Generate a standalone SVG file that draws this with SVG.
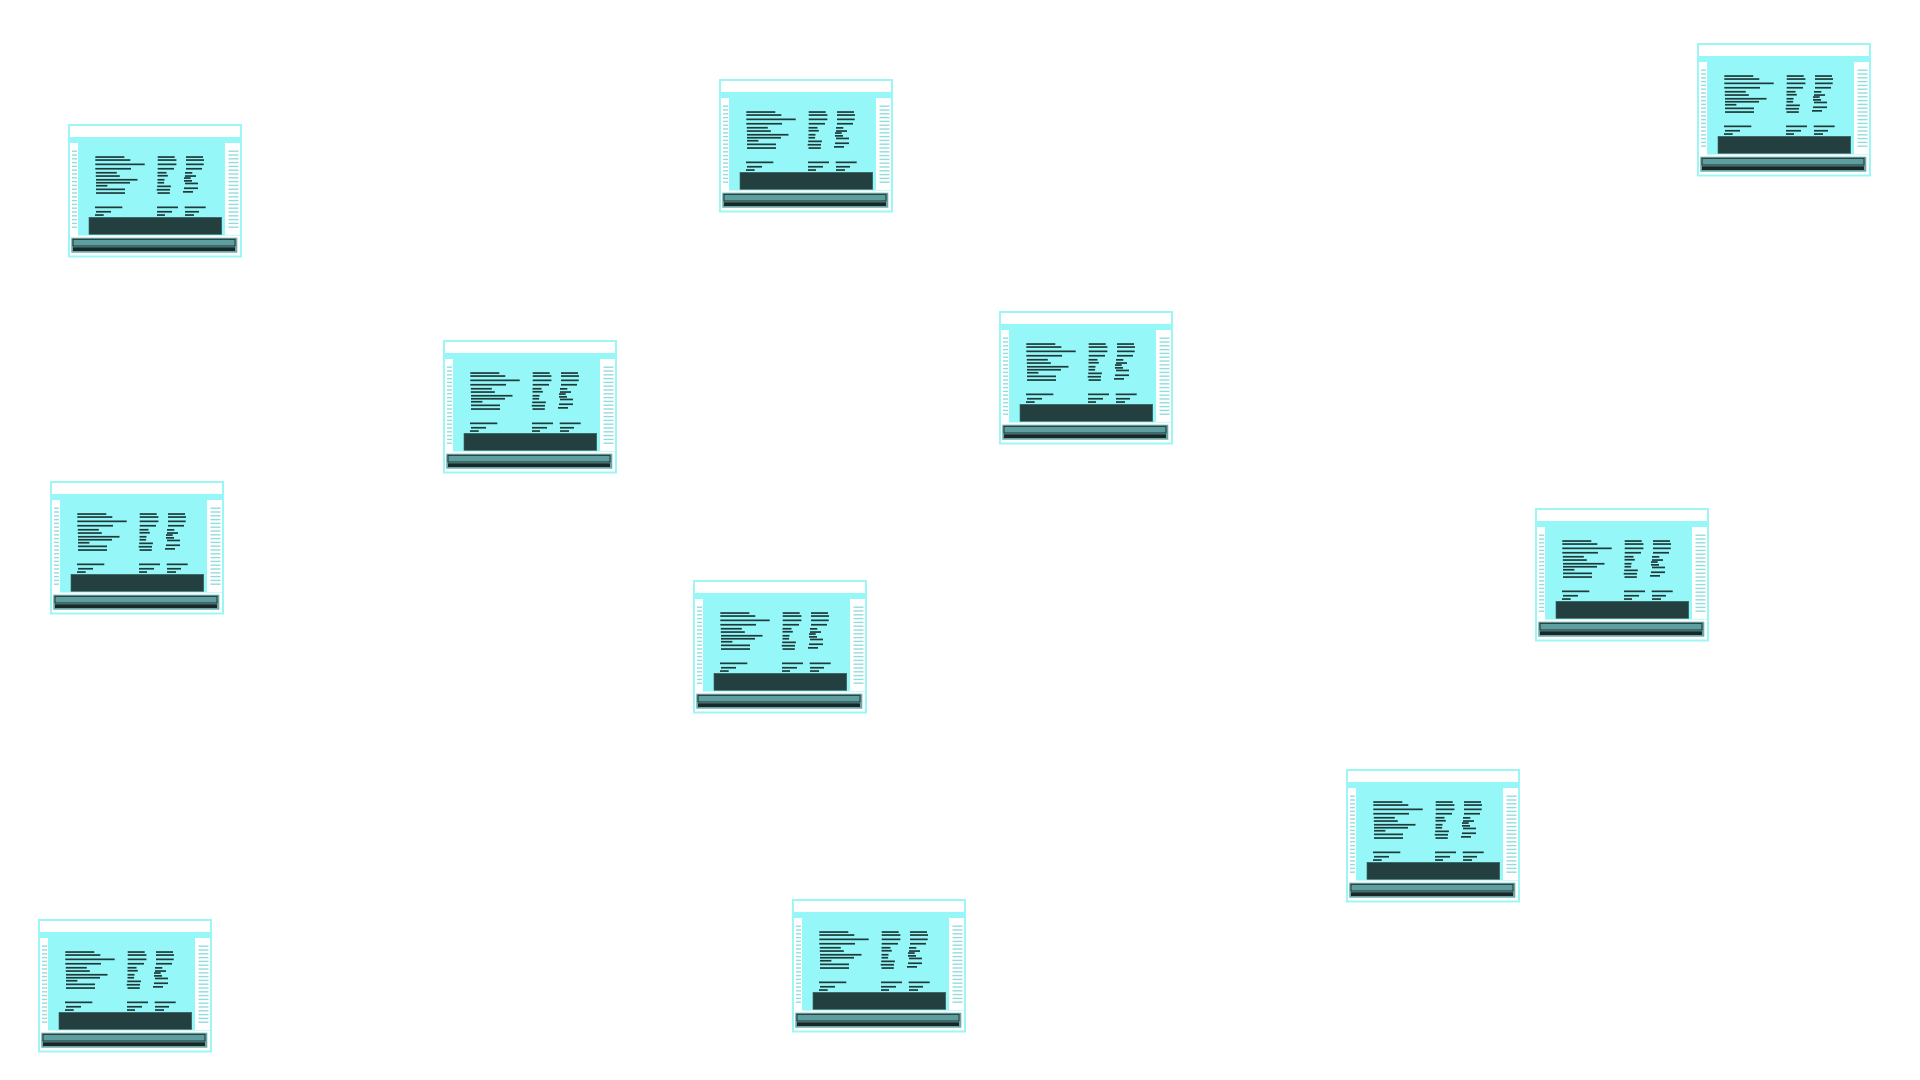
<svg xmlns="http://www.w3.org/2000/svg" xmlns:xlink="http://www.w3.org/1999/xlink" width="1920" height="1080" viewBox="0 0 1920 1080">
<style>
.frame{fill:#ffffff;stroke:#9cf6f6;stroke-width:2}
.screen{fill:#95f7f7}
.side{fill:#ffffff}
.tick{fill:#94dcdc}
.ln{fill:#1f3a3a}
.dark{fill:#243f3f;stroke:#3a6262;stroke-width:0.6}
.tray{fill:#6aa6a6}
.slot{fill:#5f9e9e;stroke:#172828;stroke-width:0.9}
.base{fill:#172828}
</style>
<defs>
<g id="tick-col">
<rect class="tick" x="0" y="0" width="5" height="1.4"/>
<rect class="tick" x="0" y="3.8" width="5" height="1.4"/>
<rect class="tick" x="0" y="7.6" width="5" height="1.4"/>
<rect class="tick" x="0" y="11.4" width="5" height="1.4"/>
<rect class="tick" x="0" y="15.2" width="5" height="1.4"/>
<rect class="tick" x="0" y="19" width="5" height="1.4"/>
<rect class="tick" x="0" y="22.8" width="5" height="1.4"/>
<rect class="tick" x="0" y="26.6" width="5" height="1.4"/>
<rect class="tick" x="0" y="30.4" width="5" height="1.4"/>
<rect class="tick" x="0" y="34.2" width="5" height="1.4"/>
<rect class="tick" x="0" y="38" width="5" height="1.4"/>
<rect class="tick" x="0" y="41.8" width="5" height="1.4"/>
<rect class="tick" x="0" y="45.6" width="5" height="1.4"/>
<rect class="tick" x="0" y="49.4" width="5" height="1.4"/>
<rect class="tick" x="0" y="53.2" width="5" height="1.4"/>
<rect class="tick" x="0" y="57" width="5" height="1.4"/>
<rect class="tick" x="0" y="60.8" width="5" height="1.4"/>
<rect class="tick" x="0" y="64.6" width="5" height="1.4"/>
<rect class="tick" x="0" y="68.4" width="5" height="1.4"/>
<rect class="tick" x="0" y="72.2" width="5" height="1.4"/>
<rect class="tick" x="0" y="76" width="5" height="1.4"/>
</g>
<g id="screen-icon">
<rect class="frame" x="1" y="1" width="172" height="131.5"/>
<rect class="screen" x="2" y="13" width="170" height="98.5"/>
<rect class="side" x="2" y="19" width="8" height="93"/>
<rect class="side" x="157" y="19" width="15" height="92"/>
<use xlink:href="#tick-col" href="#tick-col" transform="translate(4,26.5)"/>
<use xlink:href="#tick-col" href="#tick-col" transform="translate(160.5,26.5) scale(2,1)"/>
<!-- left column lines -->
<rect class="ln" x="27.3" y="32.2" width="29" height="1.7"/>
<rect class="ln" x="27.3" y="35.2" width="35" height="1.7"/>
<rect class="ln" x="27.3" y="39.5" width="49.4" height="1.7"/>
<rect class="ln" x="27.3" y="43.9" width="35.7" height="1.7"/>
<rect class="ln" x="27.8" y="47.9" width="21" height="1.7"/>
<rect class="ln" x="27.8" y="51.2" width="24" height="1.7"/>
<rect class="ln" x="28" y="54.9" width="41.5" height="1.7"/>
<rect class="ln" x="28" y="57.9" width="34" height="1.7"/>
<rect class="ln" x="28" y="60.9" width="11.4" height="1.7"/>
<rect class="ln" x="28" y="64.5" width="29" height="1.7"/>
<rect class="ln" x="28" y="68.2" width="29" height="1.7"/>
<!-- middle column lines -->
<rect class="ln" x="89.7" y="32.2" width="17" height="1.7"/>
<rect class="ln" x="89.7" y="35.2" width="18.7" height="1.7"/>
<rect class="ln" x="89.7" y="39.5" width="18.7" height="1.7"/>
<rect class="ln" x="89.7" y="43.9" width="16.3" height="1.7"/>
<rect class="ln" x="89.5" y="47.9" width="9" height="1.7"/>
<rect class="ln" x="89.5" y="50.9" width="10.3" height="1.7"/>
<rect class="ln" x="89.5" y="54.9" width="7" height="1.7"/>
<rect class="ln" x="89.5" y="57.9" width="6.6" height="1.7"/>
<rect class="ln" x="89.2" y="61.5" width="13.7" height="1.7"/>
<rect class="ln" x="88.7" y="64.9" width="13.3" height="1.7"/>
<rect class="ln" x="89.5" y="68.2" width="12.3" height="1.7"/>
<!-- right column lines -->
<rect class="ln" x="118" y="32.2" width="17" height="1.7"/>
<rect class="ln" x="118" y="35.2" width="18" height="1.7"/>
<rect class="ln" x="118" y="39.5" width="17.7" height="1.7"/>
<rect class="ln" x="118" y="43.9" width="16" height="1.7"/>
<rect class="ln" x="117" y="48" width="7.3" height="1.7"/>
<rect class="ln" x="117" y="51.2" width="11" height="1.7"/>
<rect class="ln" x="116" y="53.2" width="6.7" height="1.7"/>
<rect class="ln" x="116" y="56" width="8" height="1.7"/>
<rect class="ln" x="117" y="58.6" width="13" height="1.7"/>
<rect class="ln" x="116" y="63.4" width="14" height="1.7"/>
<rect class="ln" x="115" y="67" width="10" height="1.7"/>
<!-- lower lines -->
<rect class="ln" x="27" y="82.5" width="27.3" height="1.7"/>
<rect class="ln" x="89" y="82.5" width="21" height="1.7"/>
<rect class="ln" x="116.7" y="82.5" width="21" height="1.7"/>
<rect class="ln" x="28" y="86.9" width="15" height="1.7"/>
<rect class="ln" x="89" y="86.9" width="15" height="1.7"/>
<rect class="ln" x="117" y="86.9" width="14" height="1.7"/>
<rect class="ln" x="27" y="90.2" width="8.7" height="1.7"/>
<rect class="ln" x="89" y="90.2" width="8" height="1.7"/>
<rect class="ln" x="117" y="90.2" width="9" height="1.7"/>
<rect class="dark" x="21" y="93.3" width="132.7" height="17"/>
<rect class="tray" x="3.3" y="113.7" width="166" height="15"/>
<rect class="slot" x="5" y="115.3" width="162" height="6.7"/>
<rect class="base" x="5" y="123.3" width="162" height="3.7"/>
</g>
</defs>
<rect x="0" y="0" width="1920" height="1080" fill="#ffffff"/>
<g id="connectors"/>
<g id="node-1" transform="translate(68,124)"><use xlink:href="#screen-icon" href="#screen-icon"/></g>
<g id="node-2" transform="translate(719,79)"><use xlink:href="#screen-icon" href="#screen-icon"/></g>
<g id="node-3" transform="translate(1697,43)"><use xlink:href="#screen-icon" href="#screen-icon"/></g>
<g id="node-4" transform="translate(443,340)"><use xlink:href="#screen-icon" href="#screen-icon"/></g>
<g id="node-5" transform="translate(999,311)"><use xlink:href="#screen-icon" href="#screen-icon"/></g>
<g id="node-6" transform="translate(50,481)"><use xlink:href="#screen-icon" href="#screen-icon"/></g>
<g id="node-7" transform="translate(1535,508)"><use xlink:href="#screen-icon" href="#screen-icon"/></g>
<g id="node-8" transform="translate(693,580)"><use xlink:href="#screen-icon" href="#screen-icon"/></g>
<g id="node-9" transform="translate(1346,769)"><use xlink:href="#screen-icon" href="#screen-icon"/></g>
<g id="node-10" transform="translate(792,899)"><use xlink:href="#screen-icon" href="#screen-icon"/></g>
<g id="node-11" transform="translate(38,919)"><use xlink:href="#screen-icon" href="#screen-icon"/></g>
</svg>
